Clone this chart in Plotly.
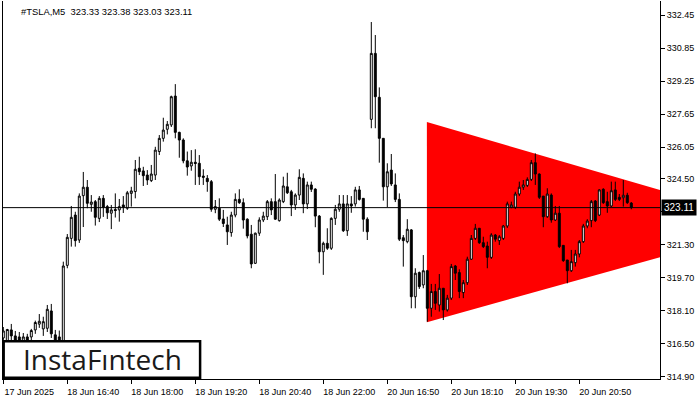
import plotly.graph_objects as go

# ---- data (5-minute TSLA bars) ----
opens = [316.79, 316.65, 317.18, 316.89, 316.84, 316.60, 316.84, 316.84, 317.18, 317.46,
         317.23, 317.26, 318.10, 316.94, 316.84, 316.55, 320.31, 321.62, 322.75, 321.54,
         323.69, 324.10, 323.27, 323.40, 322.59, 323.56, 323.16, 322.84, 323.02, 323.00,
         323.24, 323.08, 323.80, 323.89, 325.02, 324.89, 324.69, 324.42, 324.69, 325.83,
         326.47, 326.91, 327.12, 328.52, 326.76, 326.39, 325.38, 325.13, 325.31, 325.26,
         324.64, 324.53, 324.37, 323.03, 323.08, 322.56, 322.27, 321.90, 322.75, 323.51,
         323.35, 322.55, 321.82, 320.41, 321.87, 322.51, 322.67, 323.40, 323.40, 322.48,
         323.40, 324.12, 323.88, 323.24, 323.72, 324.53, 323.29, 324.21, 324.01, 322.70,
         320.97, 321.38, 321.14, 322.59, 323.03, 323.29, 321.99, 323.29, 323.29, 323.97,
         323.56, 322.55, 327.39, 330.59, 328.46, 326.47, 324.12, 324.93, 324.21, 323.51,
         321.65, 321.46, 322.03, 318.79, 319.96, 319.36, 320.05, 318.23, 319.04, 318.39,
         319.20, 318.15, 318.72, 320.28, 319.96, 318.99, 319.47, 320.61, 321.62, 322.11,
         321.41, 321.25, 320.70, 321.78, 321.51, 321.62, 322.22, 323.13, 323.13, 323.77,
         324.10, 324.19, 324.48, 325.29, 324.74, 323.67, 322.67, 323.72, 322.51, 322.84,
         321.28, 320.57, 320.05, 320.44, 320.86, 321.46, 322.22, 322.48, 323.43, 322.75,
         324.00, 323.40, 323.19, 323.97, 323.61, 323.59, 323.71, 323.33]
highs = [317.32, 317.23, 317.47, 317.13, 317.08, 317.03, 316.99, 317.23, 317.63, 317.95,
         317.82, 318.39, 318.44, 317.18, 317.15, 320.49, 321.83, 323.19, 322.91, 323.80,
         324.84, 324.45, 323.72, 323.48, 323.67, 323.72, 323.24, 323.24, 323.80, 323.53,
         323.67, 323.92, 324.12, 325.42, 325.58, 325.09, 324.93, 325.18, 326.06, 326.63,
         327.47, 327.31, 328.54, 329.10, 326.79, 326.47, 325.83, 325.90, 325.94, 325.66,
         324.97, 324.69, 324.45, 323.48, 323.56, 323.00, 322.67, 322.91, 323.80, 324.00,
         323.56, 322.59, 322.27, 321.90, 322.64, 322.91, 323.48, 323.56, 324.74, 323.56,
         324.61, 324.80, 323.97, 323.80, 324.97, 324.77, 324.37, 324.37, 324.05, 322.75,
         321.46, 322.11, 322.64, 323.24, 323.72, 323.72, 323.72, 323.67, 324.12, 324.16,
         323.56, 322.64, 332.11, 331.48, 328.94, 326.47, 325.26, 325.71, 324.77, 323.80,
         321.78, 322.55, 322.07, 320.17, 320.01, 320.81, 320.09, 319.41, 319.41, 319.89,
         319.20, 318.88, 320.38, 320.33, 320.12, 319.60, 320.73, 321.78, 322.32, 322.11,
         321.70, 321.46, 321.87, 321.83, 321.78, 322.27, 323.40, 323.40, 323.88, 324.37,
         324.45, 324.58, 325.42, 325.74, 324.77, 323.67, 324.05, 323.80, 323.19, 323.19,
         321.28, 320.57, 321.06, 321.06, 321.54, 322.32, 322.55, 323.48, 323.48, 324.00,
         324.05, 323.88, 324.37, 324.37, 323.77, 324.45, 323.83, 323.38]
lows = [316.50, 316.40, 316.60, 316.45, 316.40, 316.40, 316.45, 316.65, 316.99, 317.28,
        316.89, 317.08, 316.79, 316.45, 316.35, 316.35, 320.17, 321.22, 321.22, 321.40,
        322.17, 323.08, 322.91, 322.24, 322.41, 322.66, 322.56, 322.07, 322.63, 322.43,
        322.85, 323.00, 323.16, 323.56, 324.69, 324.16, 324.21, 324.35, 324.45, 325.66,
        326.31, 326.66, 327.02, 326.47, 325.53, 325.26, 324.66, 324.90, 324.21, 324.21,
        324.21, 323.88, 322.91, 322.84, 322.46, 322.17, 321.30, 321.70, 322.64, 323.29,
        322.09, 321.62, 320.17, 320.38, 321.74, 322.41, 322.51, 322.75, 322.51, 322.43,
        323.33, 323.77, 322.70, 323.00, 323.48, 322.84, 323.04, 323.87, 322.16, 320.41,
        319.85, 321.06, 321.06, 322.27, 322.91, 321.93, 321.74, 322.86, 323.16, 323.45,
        321.94, 321.54, 326.96, 326.96, 325.29, 323.45, 323.13, 324.16, 323.38, 321.49,
        320.25, 321.38, 318.23, 318.23, 319.17, 319.20, 317.58, 317.82, 318.15, 318.07,
        317.66, 318.07, 318.63, 319.60, 318.72, 318.72, 319.36, 320.57, 321.54, 321.35,
        321.15, 320.17, 320.62, 321.46, 321.30, 321.54, 322.12, 323.08, 323.04, 323.67,
        323.97, 324.11, 324.40, 324.21, 323.53, 322.16, 322.61, 322.38, 322.46, 321.15,
        320.48, 319.44, 319.99, 320.25, 320.70, 321.40, 322.11, 322.16, 322.41, 322.70,
        323.29, 322.86, 323.14, 323.43, 323.43, 323.16, 323.29, 323.03]
closes = [317.13, 317.20, 316.89, 316.65, 316.65, 316.84, 316.65, 317.15, 317.54, 317.60,
          317.58, 318.18, 316.99, 316.60, 316.50, 320.28, 321.67, 322.64, 321.51, 323.67,
          324.10, 323.32, 323.38, 322.64, 323.56, 323.13, 322.86, 323.00, 322.97, 323.16,
          323.13, 323.83, 323.92, 324.97, 324.85, 324.66, 324.45, 324.74, 325.90, 326.47,
          326.87, 327.15, 328.49, 326.76, 326.39, 325.38, 325.08, 325.31, 325.25, 324.61,
          324.58, 324.37, 323.03, 323.16, 322.55, 322.34, 321.94, 322.75, 323.51, 323.35,
          322.51, 321.74, 320.38, 321.87, 322.51, 322.70, 323.40, 323.00, 322.55, 323.48,
          324.16, 323.83, 323.24, 323.72, 324.58, 323.29, 324.21, 324.00, 322.70, 320.97,
          321.38, 321.14, 322.59, 323.03, 323.29, 321.99, 323.29, 323.19, 323.97, 323.51,
          322.55, 321.94, 330.59, 328.49, 326.47, 324.12, 324.85, 324.26, 323.51, 321.58,
          321.51, 322.06, 318.79, 319.93, 319.28, 320.05, 318.23, 319.04, 318.47, 319.20,
          318.15, 318.72, 320.25, 319.93, 319.04, 319.47, 320.61, 321.62, 322.11, 321.41,
          321.22, 320.70, 321.78, 321.58, 321.70, 322.22, 323.29, 323.24, 323.77, 324.10,
          324.21, 324.48, 325.29, 324.74, 323.61, 322.67, 323.77, 322.51, 322.84, 321.22,
          320.54, 320.05, 320.49, 320.86, 321.46, 322.22, 322.46, 323.40, 322.48, 323.97,
          323.35, 323.19, 323.93, 323.51, 323.51, 323.71, 323.35, 323.11]

tick_bars = [0, 16, 32, 48, 64, 80, 96, 112, 128, 144]
tick_labels = ["17 Jun 2025", "18 Jun 16:40", "18 Jun 18:00", "18 Jun 19:20",
               "18 Jun 20:40", "18 Jun 22:00", "20 Jun 16:50", "20 Jun 18:10",
               "20 Jun 19:30", "20 Jun 20:50"]
price_ticks = [314.90, 316.50, 318.10, 319.70, 321.30, 322.90,
               324.50, 326.05, 327.65, 329.25, 330.85, 332.45]

# bearish symmetrical triangle pattern (bar index, price)
pattern_bars = [105.9, 105.9, 193.5]
pattern_prices = [327.26, 317.55, 322.30]

symbol = "#TSLA,M5"
brand = "InstaFıntech"

bars = list(range(len(opens)))
last = closes[-1]

fig = go.Figure()

# pattern drawn below the candles
tri_path = "M " + " L ".join(f"{b},{p}" for b, p in zip(pattern_bars, pattern_prices)) + " Z"
fig.add_shape(type="path", xref="x", yref="y", path=tri_path,
              fillcolor="#FF0000", line=dict(color="#FF0000", width=0), layer="below")

fig.add_trace(go.Candlestick(
    x=bars, open=opens, high=highs, low=lows, close=closes,
    increasing=dict(line=dict(color="black", width=1), fillcolor="white"),
    decreasing=dict(line=dict(color="black", width=1), fillcolor="black"),
    whiskerwidth=0, showlegend=False))

fig.add_shape(type="line", xref="paper", x0=0, x1=1, yref="y", y0=last, y1=last,
              line=dict(color="black", width=1), layer="above")

fig.add_shape(type="rect", xref="paper", yref="paper", x0=0.001, x1=0.3,
              y0=0.003, y1=0.1, line=dict(color="black", width=2.5),
              fillcolor="white", layer="above")

fig.add_annotation(xref="paper", yref="paper", x=0.1507, y=0.052, text=brand,
                   showarrow=False, xanchor="center", yanchor="middle",
                   font=dict(family="Open Sans", size=28, color="#1a1a1a"))

title_text = f"{symbol}  {opens[-1]:.2f} {highs[-1]:.2f} {lows[-1]:.2f} {closes[-1]:.2f}"
fig.add_annotation(xref="paper", yref="paper", x=0.0245, y=0.9735, text=title_text,
                   showarrow=False, xanchor="left", yanchor="middle",
                   font=dict(family="Liberation Sans", size=9.4, color="black"))

fig.add_annotation(xref="paper", yref="y", x=1, y=last, xshift=1, text=f"{last:.2f}",
                   showarrow=False, xanchor="left", yanchor="middle",
                   bgcolor="black", borderpad=2,
                   font=dict(family="Liberation Sans", size=10, color="white"))

fig.update_layout(
    width=700, height=400,
    paper_bgcolor="white", plot_bgcolor="white",
    margin=dict(l=3, r=40, t=1, b=21),
    showlegend=False,
    xaxis=dict(range=[-0.075, 164.175], tickvals=tick_bars, ticktext=tick_labels,
               ticks="outside", ticklen=4, tickcolor="black", showline=True,
               linecolor="black", linewidth=1, showgrid=False, zeroline=False,
               rangeslider=dict(visible=False), ticklabelshift=26,
               tickfont=dict(family="Liberation Sans", size=9, color="black")),
    yaxis=dict(side="right", range=[314.80, 333.13], tickvals=price_ticks,
               ticktext=[f"{v:.2f}" for v in price_ticks],
               ticks="outside", ticklen=4, tickcolor="black", showline=True,
               mirror=True, linecolor="black", linewidth=1, showgrid=False,
               zeroline=False,
               tickfont=dict(family="Liberation Sans", size=9, color="black")),
)

fig.write_html("out.html", config={"displayModeBar": False},
               post_script="document.body.style.margin='0';")
